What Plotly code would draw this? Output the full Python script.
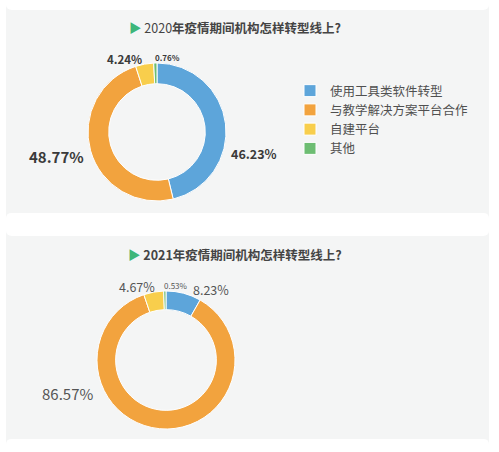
import plotly.graph_objects as go

# data
labels = ['使用工具类软件转型', '与教学解决方案平台合作', '自建平台', '其他']
vals_2020 = [46.23, 48.77, 4.24, 0.76]
vals_2021 = [8.23, 86.57, 4.67, 0.53]
colors = ['#5DA5DA', '#F2A33E', '#F8CE4C', '#6DBD72']

W, H = 499, 452
FONT = 'Noto Sans CJK SC'

def px(x, y):
    return x / W, 1 - y / H

def rounded(x0, y0, x1, y1, r):
    return (f'M{x0+r},{y0} L{x1-r},{y0} Q{x1},{y0} {x1},{y0+r} L{x1},{y1-r} '
            f'Q{x1},{y1} {x1-r},{y1} L{x0+r},{y1} Q{x0},{y1} {x0},{y1-r} '
            f'L{x0},{y0+r} Q{x0},{y0} {x0+r},{y0} Z')

fig = go.Figure()

fig.add_trace(go.Pie(
    labels=labels, values=vals_2020, hole=0.70, sort=False,
    direction='clockwise', rotation=0, textinfo='none',
    marker=dict(colors=colors, line=dict(color='white', width=1)),
    domain=dict(x=[88/W, 226/W], y=[1-201/H, 1-63/H]),
    legend='legend',
))
fig.add_trace(go.Pie(
    labels=labels, values=vals_2021, hole=0.73, sort=False,
    direction='clockwise', rotation=0, textinfo='none',
    marker=dict(colors=colors, line=dict(color='white', width=1)),
    domain=dict(x=[97/W, 235/W], y=[1-429/H, 1-291/H]),
    legend='legend2',
))

# panel backgrounds
shapes = []
for (y0, y1) in [(10, 213), (236, 439)]:
    shapes.append(dict(type='path', xref='paper', yref='paper',
                       path=rounded(6/W, 1-y0/H, 489/W, 1-y1/H, 0.012),
                       fillcolor='#F4F5F5', line=dict(width=0), layer='below'))

ann = []
# titles
for y, yr, bold_year in [(27, '2020', False), (254, '2021', True)]:
    yr_txt = f'<b>{yr}</b>' if bold_year else yr
    x, yy = px(235, y)
    ann.append(dict(x=x, y=yy, xref='paper', yref='paper', showarrow=False,
                    xanchor='center', yanchor='middle',
                    text=f'<span style="color:#3DB67A">▶</span> {yr_txt}<b>年疫情期间机构怎样转型线上?</b>',
                    font=dict(family=FONT, size=12.5, color='#444')))

# 2020 slice labels
lab20 = [(254, 153, 12.5), (56, 157, 15), (125, 59, 11.5), (167, 57, 8)]
for v, (x, y, s) in zip(vals_2020, lab20):
    xx, yy = px(x, y)
    ann.append(dict(x=xx, y=yy, xref='paper', yref='paper', showarrow=False,
                    xanchor='center', yanchor='middle',
                    text=f'<b>{v:.2f}%</b>', font=dict(family=FONT, size=s, color='#3a3a3a')))

# 2021 slice labels
lab21 = [(211, 289, 12.5), (67, 393, 15), (137, 286, 12.5), (176, 285, 8)]
for v, (x, y, s) in zip(vals_2021, lab21):
    xx, yy = px(x, y)
    ann.append(dict(x=xx, y=yy, xref='paper', yref='paper', showarrow=False,
                    xanchor='center', yanchor='middle',
                    text=f'{v:.2f}%', font=dict(family=FONT, size=s, color='#555')))

leg = dict(font=dict(family=FONT, size=12.5, color='#505050'), bgcolor='rgba(0,0,0,0)',
           xanchor='left', yanchor='top', itemclick=False, itemdoubleclick=False)

fig.update_layout(
    width=W, height=H,
    margin=dict(l=0, r=0, t=0, b=0),
    paper_bgcolor='white', plot_bgcolor='white',
    shapes=shapes, annotations=ann,
    legend=dict(x=290/W, y=1-76/H, **leg),
    legend2=dict(x=290/W, y=1-289/H, **leg),
)

# page body has a default 8px margin, drop it so the figure sits at 0,0
fig.write_html('out.html', config={'displayModeBar': False},
               post_script="document.body.style.margin='0';")
